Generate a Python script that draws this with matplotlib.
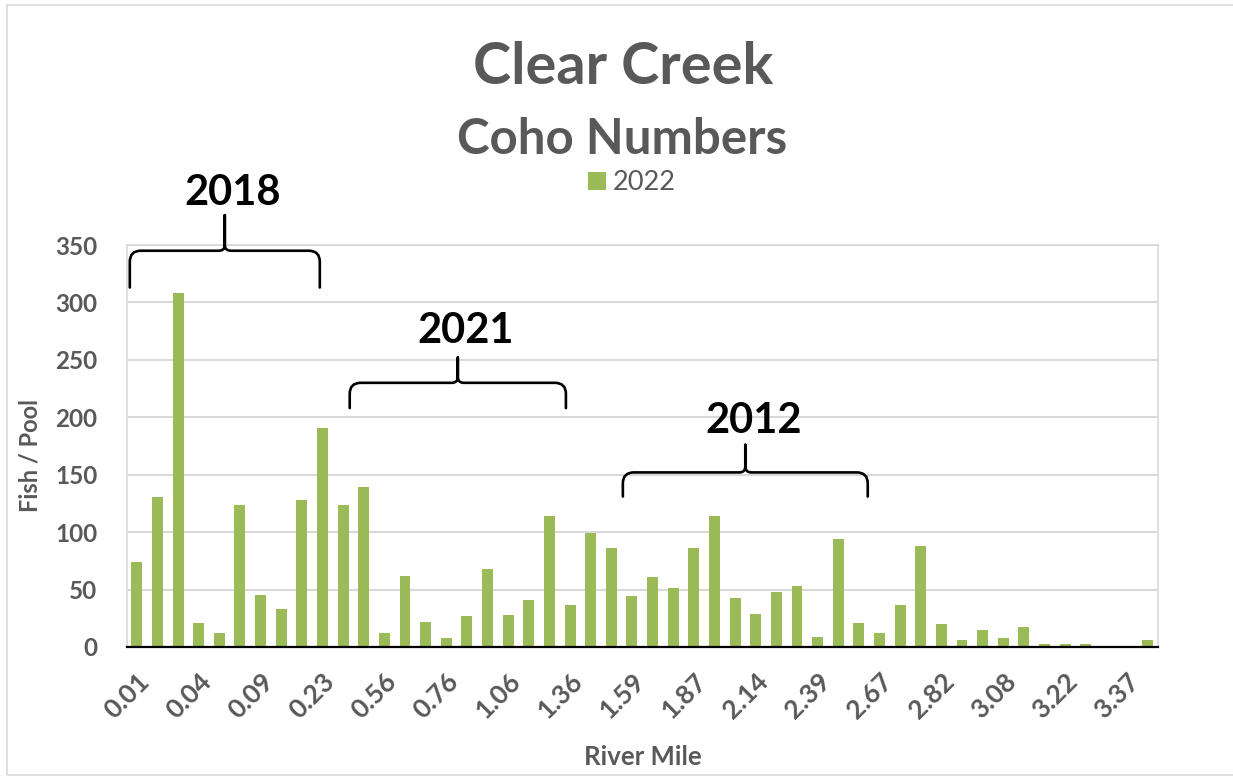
import matplotlib
matplotlib.use("Agg")
import matplotlib.pyplot as plt
import numpy as np
from matplotlib.path import Path
from matplotlib.patches import PathPatch, Rectangle
from matplotlib.transforms import IdentityTransform

plt.rcParams["font.family"] = ["Lato", "DejaVu Sans"]

# River mile of each surveyed pool (only every third one is labelled on the axis)
river_miles = ["0.01", "0.02", "0.03", "0.04", "0.05", "0.07", "0.09", "0.13", "0.18", "0.23",
               "0.34", "0.45", "0.56", "0.63", "0.70", "0.76", "0.86", "0.96", "1.06", "1.16",
               "1.26", "1.36", "1.44", "1.52", "1.59", "1.68", "1.78", "1.87", "1.96", "2.05",
               "2.14", "2.22", "2.31", "2.39", "2.48", "2.58", "2.67", "2.72", "2.77", "2.82",
               "2.91", "2.99", "3.08", "3.13", "3.17", "3.22", "3.27", "3.32", "3.37", "3.42"]

# Coho counted per pool, 2022 survey
coho_2022 = [74, 131, 308, 21, 12, 124, 45, 33, 128, 191,
             124, 139, 12, 62, 22, 8, 27, 68, 28, 41,
             114, 37, 99, 86, 44, 61, 51, 86, 114, 43,
             29, 48, 53, 9, 94, 21, 12, 37, 88, 20,
             6, 15, 8, 17, 3, 3, 3, 0, 1, 6]

y_ticks = [0, 50, 100, 150, 200, 250, 300, 350]

# Restoration project reaches: (year, bracket start, bracket end) in pool positions
reaches = [("2018", -0.34, 8.87), ("2021", 10.32, 20.8), ("2012", 23.56, 35.43)]

W, H = 1233, 780
DPI = 100
GRAY_TEXT = "#595959"
GRID = "#D9D9D9"
BAR = "#9BBB59"

fig = plt.figure(figsize=(W / DPI, H / DPI), dpi=DPI)
fig.patch.set_facecolor("white")

# plot area in pixel terms
left_px, right_px, top_px, bottom_px = 126.5, 1158, 245, 647
ax = fig.add_axes([left_px / W, 1 - bottom_px / H,
                   (right_px - left_px) / W, (bottom_px - top_px) / H])

x = np.arange(len(coho_2022))
ax.bar(x, coho_2022, width=0.53, color=BAR, zorder=3, label="2022")

ax.set_xlim(-0.5, len(coho_2022) - 0.5)
ax.set_ylim(0, 350)
ax.set_yticks(y_ticks)
ax.set_yticklabels([str(v) for v in y_ticks], fontsize=17.5, fontweight="bold", color=GRAY_TEXT)
tick_idx = x[::3]
ax.set_xticks(tick_idx)
ax.set_xticklabels([river_miles[i] for i in tick_idx], rotation=45, ha="right",
                   rotation_mode="anchor", fontsize=19, fontweight="bold", color=GRAY_TEXT)
ax.tick_params(axis="both", length=0)
ax.tick_params(axis="y", pad=21)
ax.tick_params(axis="x", pad=16)
ax.grid(axis="y", color=GRID, linewidth=1.5, zorder=0)
for side in ("left", "right", "top"):
    ax.spines[side].set_color(GRID)
    ax.spines[side].set_linewidth(1.2)
ax.spines["bottom"].set_color("black")
ax.spines["bottom"].set_linewidth(1.6)
ax.spines["bottom"].set_zorder(4)

# titles, legend and axis titles
fig.text(623 / W, 1 - 68 / H, "Clear Creek", ha="center", va="center",
         fontsize=41.5, fontweight="bold", color=GRAY_TEXT)
fig.text(622 / W, 1 - 139 / H, "Coho Numbers", ha="center", va="center",
         fontsize=35.5, fontweight="bold", color=GRAY_TEXT)
leg = fig.legend(loc="center", bbox_to_anchor=(632 / W, 1 - 183 / H), frameon=False,
                 fontsize=19.5, handlelength=0.65, handleheight=0.65, handletextpad=0.25,
                 borderaxespad=0)
for t in leg.get_texts():
    t.set_color(GRAY_TEXT)
fig.text(30 / W, 1 - 455 / H, "Fish / Pool", rotation=90, ha="center", va="center",
         fontsize=17, fontweight="bold", color=GRAY_TEXT)
fig.text(643 / W, 1 - 757 / H, "River Mile", ha="center", va="center",
         fontsize=18.5, fontweight="bold", color=GRAY_TEXT)

# reach brackets with their year labels
brace_levels = {"2018": (313, 345, 376, 395),
                "2021": (208, 230, 252, 275),
                "2012": (131, 152, 176, 197)}
fig.canvas.draw()
to_px = ax.transData.transform


def brace_path(x0, x1, y_end, y_bar, y_tip, r=11, rc=6):
    (X0, Ye), = to_px([(x0, y_end)])
    (X1, Yb), = to_px([(x1, y_bar)])
    Xc = (X0 + X1) / 2
    (_, Yt), = to_px([(x0, y_tip)])
    verts, codes = [], []
    for Xe, s in ((X0, 1), (X1, -1)):
        verts += [(Xe, Ye), (Xe, Yb - r), (Xe, Yb), (Xe + s * r, Yb),
                  (Xc - s * rc, Yb), (Xc, Yb), (Xc, Yb + rc), (Xc, Yt)]
        codes += [Path.MOVETO, Path.LINETO, Path.CURVE3, Path.CURVE3,
                  Path.LINETO, Path.CURVE3, Path.CURVE3, Path.LINETO]
    return Path(verts, codes)


for year, x0, x1 in reaches:
    y_end, y_bar, y_tip, y_text = brace_levels[year]
    fig.add_artist(PathPatch(brace_path(x0, x1, y_end, y_bar, y_tip), facecolor="none",
                             edgecolor="black", linewidth=1.9,
                             transform=IdentityTransform(), capstyle="round"))
    ax.text((x0 + x1) / 2 + 0.4, y_text, year, ha="center", va="center",
            fontsize=30, fontweight="bold", color="black", clip_on=False)

# chart frame
fig.add_artist(Rectangle((7 / W, 1 - 775 / H), 1.2, (775 - 5) / H, transform=fig.transFigure,
                         facecolor="none", edgecolor=GRID, linewidth=1.2))

fig.savefig("out.png", dpi=DPI, facecolor="white")
